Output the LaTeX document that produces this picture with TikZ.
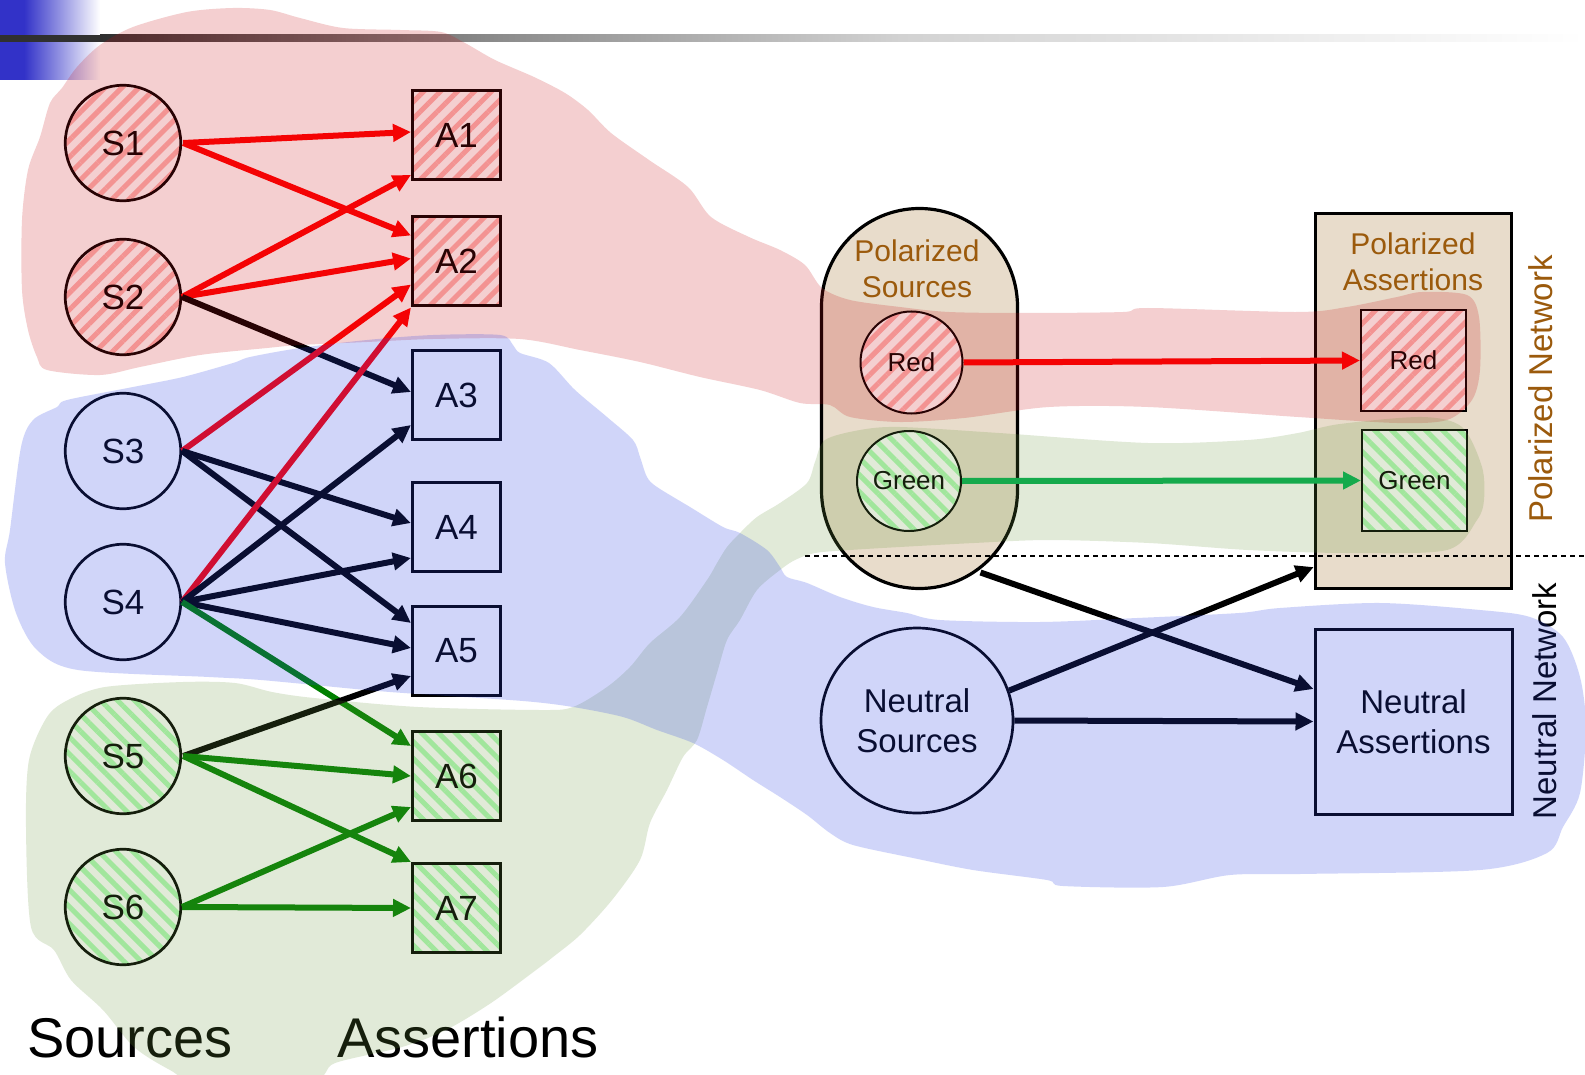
\documentclass[tikz,border=0pt]{standalone}
\usepackage{fontspec}
\setmainfont{Liberation Sans}
\usetikzlibrary{arrows.meta,patterns.meta,shapes.geometric}
\definecolor{hdrblue}{RGB}{50,50,200}
\definecolor{bardark}{RGB}{48,48,48}
\definecolor{barmid}{RGB}{140,140,140}
\definecolor{barlight}{RGB}{210,210,210}
\definecolor{beige}{RGB}{232,220,203}
\definecolor{polbrown}{RGB}{155,90,12}
\definecolor{stripered}{RGB}{254,180,178}
\definecolor{stripegreen}{RGB}{175,250,180}
\definecolor{edgered}{RGB}{255,0,0}
\definecolor{edgegreen}{RGB}{0,128,0}
\definecolor{brightgreen}{RGB}{0,176,80}
\definecolor{blobred}{RGB}{200,15,20}
\definecolor{blobgreen}{RGB}{105,150,60}
\definecolor{blobblue}{RGB}{45,68,232}
\begin{document}
\begin{tikzpicture}[x=1pt,y=-1pt,
  src/.style={circle, draw=black, line width=2.7pt, fill=white, minimum size=115.5pt, inner sep=0pt, font=\fontsize{35}{35}\selectfont},
  asr/.style={rectangle, draw=black, line width=3pt, fill=white, minimum width=88pt, minimum height=89pt, inner sep=0pt, font=\fontsize{35}{35}\selectfont},
  redhatch/.style={preaction={fill=white}, pattern={Lines[angle=45,distance=12pt,line width=5pt]}, pattern color=stripered},
  greenhatch/.style={preaction={fill=white}, pattern={Lines[angle=-45,distance=12pt,line width=5pt]}, pattern color=stripegreen},
  conn/.style={line width=6pt, -{Triangle[length=18pt,width=17pt]}},
  container/.style={draw=black, line width=3.2pt, fill=beige, inner sep=0pt},
  smallnode/.style={draw=black, line width=2pt, inner sep=0pt, font=\fontsize{26}{26}\selectfont},
  bigtext/.style={font=\fontsize{33}{40}\selectfont, align=center},
  poltext/.style={font=\fontsize{30}{36}\selectfont, align=center, text=polbrown},
  blob/.style={fill opacity=0.2}
]
\useasboundingbox (0,0) rectangle (1585,1075);
\fill[white] (0,0) rectangle (1585,1075);
% header
\fill[hdrblue] (0,0) rectangle (24,80);
\shade[left color=hdrblue, right color=white] (24,0) rectangle (100,80);
\fill[bardark] (0,35) rectangle (100,42);
\shade[left color=bardark, right color=barmid] (100,35) rectangle (500,42);
\shade[left color=barmid, right color=barlight] (500,35) rectangle (900,42);
\shade[left color=barlight, right color=white] (900,35) rectangle (1585,42);

% containers
\node[container, rounded corners=98pt, minimum width=196pt, minimum height=380pt] (PS) at (919.5,398.5) {};
\node[container, line width=3.6pt, minimum width=196pt, minimum height=375pt] (PA) at (1413.5,401) {};
\node[poltext] (PSL) at (917,269) {Polarized\\Sources};
\node[poltext] (PAL) at (1413,262) {Polarized\\Assertions};

% sources
\node[src, redhatch] (S1) at (123,143) {S1};
\node[src, redhatch] (S2) at (123,297) {S2};
\node[src] (S3) at (123,451) {S3};
\node[src] (S4) at (123,602) {S4};
\node[src, greenhatch] (S5) at (123,756) {S5};
\node[src, greenhatch] (S6) at (123,907) {S6};
% assertions
\node[asr, redhatch] (A1) at (456.5,135) {A1};
\node[asr, redhatch] (A2) at (456.5,261.5) {A2};
\node[asr] (A3) at (456.5,395) {A3};
\node[asr] (A4) at (456.5,527) {A4};
\node[asr] (A5) at (456.5,651) {A5};
\node[asr, greenhatch] (A6) at (456.5,776) {A6};
\node[asr, greenhatch] (A7) at (456.5,908) {A7};

% right nodes
\node[smallnode, circle, redhatch, minimum size=102pt] (RS) at (911.5,362.5) {Red};
\node[smallnode, ellipse, greenhatch, minimum width=104pt, minimum height=100pt] (GS) at (909,481) {Green};
\node[smallnode, rectangle, redhatch, minimum width=105pt, minimum height=101pt] (RA) at (1413.5,360.5) {Red};
\node[smallnode, rectangle, greenhatch, minimum width=105pt, minimum height=101pt] (GA) at (1414.5,480.5) {Green};
\node[ellipse, draw=black, line width=2.7pt, fill=white, minimum width=192pt, minimum height=185pt, inner sep=0pt, bigtext] (NS) at (917,720.5) {Neutral\\Sources};
\node[rectangle, draw=black, line width=3pt, fill=white, minimum width=197pt, minimum height=185pt, inner sep=0pt, bigtext] (NA) at (1413.5,721.5) {Neutral\\Assertions};

% left edges
\draw[conn, edgered] (S1.east) -- ([yshift=3pt]A1.west);
\draw[conn, edgered] (S1.east) -- ([yshift=26pt]A2.west);
\draw[conn, edgered] (S2.east) -- ([yshift=-40pt]A1.west);
\draw[conn, edgered] (S2.east) -- ([yshift=3pt]A2.west);
\draw[conn, black] (S2.east) -- ([yshift=3pt]A3.west);
\draw[conn, edgered] (S3.east) -- ([yshift=-23pt]A2.west);
\draw[conn, black] (S3.east) -- ([yshift=4pt]A4.west);
\draw[conn, black] (S3.east) -- ([yshift=28pt]A5.west);
\draw[conn, edgered] (S4.east) -- (A2.south west);
\draw[conn, black] (S4.east) -- ([yshift=-30pt]A3.west);
\draw[conn, black] (S4.east) -- ([yshift=-31pt]A4.west);
\draw[conn, black] (S4.east) -- ([yshift=3pt]A5.west);
\draw[conn, edgegreen] (S4.east) -- ([yshift=30pt]A6.west);
\draw[conn, black] (S5.east) -- ([yshift=-25pt]A5.west);
\draw[conn, edgegreen] (S5.east) -- (A6.west);
\draw[conn, edgegreen] (S5.east) -- (A7.north west);
\draw[conn, edgegreen] (S6.east) -- ([yshift=-31pt]A6.west);
\draw[conn, edgegreen] (S6.east) -- (A7.west);

% right edges
\draw[conn, edgered] (RS.east) -- (RA.west);
\draw[conn, brightgreen] (GS.east) -- (GA.west);
\coordinate (PSout) at ([xshift=61pt,yshift=-174pt]PS.center);
\draw[conn, black] (PSout) -- (NA.162);
\draw[conn, black] (NS.18) -- (PA.239);
\draw[conn, black] (NS.east) -- (NA.west);

% separator and labels
\draw[black, line width=1.3pt, dash pattern=on 5pt off 4pt] (805,556) -- (1585,556);
\node[font=\fontsize{33}{33}\selectfont, text=polbrown, rotate=90] (PN) at (1541,389) {Polarized Network};
\node[font=\fontsize{33}{33}\selectfont, rotate=90] (NN) at (1545,701) {Neutral Network};
\node[font=\fontsize{56}{56}\selectfont, anchor=base] (SL) at (130,1057) {Sources};
\node[font=\fontsize{56}{56}\selectfont, anchor=base] (AL) at (468,1057) {Assertions};

% blobs
\fill[blobred, blob] plot[smooth cycle, tension=0.5] coordinates {
(50,103) (62,88) (77,67) (100,45) (133,27) (187,12) (233,8) (270,10) (300,18) (343,28) (400,30) (441,32) (465,43) (495,60) (534,77) (565,93) (588,110) (611,133) (649,160) (688,187) (711,217) (749,237) (780,250) (805,265) (822,288) (850,300) (900,307) (949,312) (1024,313) (1123,312) (1148,308) (1297,312) (1347,307) (1397,297) (1422,292) (1467,295) (1479,317) (1480,370) (1472,400) (1447,420) (1397,423) (1298,417) (1148,407) (1049,407) (964,418) (900,422) (850,417) (830,405) (800,403) (760,390) (700,377) (640,362) (580,350) (520,339) (433,339) (367,342) (300,345) (267,348) (200,355) (140,367) (100,375) (47,370) (37,357) (28,330) (22,290) (22,220) (28,170) (40,137)};
\fill[blobgreen, blob] plot[smooth cycle, tension=0.5] coordinates {
(29,760) (47,717) (68,700) (105,687) (183,682) (235,683) (272,692) (314,698) (418,707) (540,710) (573,707) (607,687) (630,667) (650,643) (680,617) (707,580) (717,563) (727,547) (740,533) (757,517) (780,503) (807,483) (815,462) (825,440) (860,430) (900,427) (999,433) (1148,443) (1248,440) (1298,433) (1340,424) (1422,417) (1462,427) (1482,467) (1484,500) (1477,520) (1447,550) (1347,553) (1248,550) (1149,543) (1049,540) (974,543) (900,547) (850,550) (815,553) (795,560) (780,570) (757,590) (740,620) (727,640) (717,673) (707,707) (697,740) (683,757) (667,790) (650,823) (640,860) (612,900) (580,935) (553,957) (536,970) (491,1003) (446,1030) (402,1047) (335,1063) (312,1080) (200,1082) (170,1070) (134,1047) (103,1010) (71,980) (54,950) (31,927) (26,827)};
\fill[blobblue, fill opacity=0.22] plot[smooth cycle, tension=0.5] coordinates {
(33,420) (57,407) (67,400) (133,387) (183,377) (233,363) (250,357) (300,348) (367,340) (433,335) (500,335) (513,345) (520,353) (549,363) (575,390) (607,417) (633,440) (640,457) (647,477) (657,487) (690,507) (723,527) (740,533) (767,550) (780,567) (787,577) (807,583) (840,597) (873,607) (907,613) (940,620) (1040,622) (1137,618) (1239,613) (1280,608) (1380,603) (1480,610) (1530,617) (1563,637) (1580,677) (1586,727) (1580,793) (1563,827) (1547,853) (1480,870) (1300,874) (1230,875) (1163,887) (1063,886) (1047,880) (973,870) (913,858) (853,845) (830,833) (807,815) (780,797) (753,780) (723,760) (693,743) (657,730) (623,717) (573,707) (523,701) (418,694) (366,690) (261,680) (209,677) (78,670) (37,650) (16,613) (5,563) (10,530) (21,447)};
\end{tikzpicture}
\end{document}
